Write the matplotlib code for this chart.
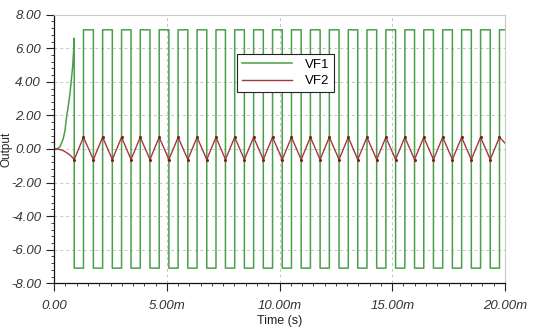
import numpy as np
import matplotlib
matplotlib.use("Agg")
import matplotlib.pyplot as plt
from matplotlib.ticker import MultipleLocator, FuncFormatter

# time in ms
# start-up transient
start_t = [0.0, 0.15, 0.26, 0.40, 0.48, 0.55, 0.63, 0.70, 0.76, 0.82, 0.86, 0.89]
start_vf1 = [0.0, 0.02, 0.14, 0.6, 1.1, 1.9, 2.6, 3.3, 4.1, 4.9, 5.8, 6.6]
start_vf2 = [0.0, -0.01, -0.04, -0.10, -0.16, -0.22, -0.29, -0.36, -0.44, -0.52, -0.58, -0.63]

# square wave VF1: edges of the low pulses (ms)
low_start = [0.89, 1.74, 2.58, 3.41, 4.25, 5.09, 5.93, 6.77, 7.60, 8.44, 9.28, 10.12,
             10.96, 11.80, 12.64, 13.47, 14.31, 15.15, 15.99, 16.83, 17.67, 18.51, 19.35]
low_end = [1.30, 2.15, 2.99, 3.82, 4.66, 5.50, 6.34, 7.18, 8.01, 8.85, 9.69, 10.53,
           11.37, 12.21, 13.05, 13.88, 14.72, 15.56, 16.40, 17.24, 18.08, 18.92, 19.76]
vf1_high = 7.1
vf1_low = -7.1

# triangle VF2
vf2_peak = 0.70
vf2_trough = -0.63
t_end = 20.0
vf2_end = 0.35

# build VF1 trace
t1 = list(start_t)
v1 = list(start_vf1)
for s, e in zip(low_start, low_end):
    t1 += [s, s, e, e]
    v1 += [vf1_high if s != low_start[0] else start_vf1[-1], vf1_low, vf1_low, vf1_high]
t1.append(t_end)
v1.append(vf1_high)

# build VF2 trace
t2 = list(start_t)
v2 = list(start_vf2)
for s, e in zip(low_start, low_end):
    if s != low_start[0]:
        t2.append(s)
        v2.append(vf2_trough)
    t2.append(e)
    v2.append(vf2_peak)
t2.append(t_end)
v2.append(vf2_end)

plt.rcParams['font.family'] = ['Liberation Sans', 'DejaVu Sans']

fig = plt.figure(figsize=(5.5, 3.34), dpi=100)
ax = fig.add_axes([0.0985, 0.152, 0.8195, 0.804])

ax.plot(t1, v1, color='#4a9f4a', lw=1.1, label='VF1')
ax.plot(t2, v2, color='#a33a3a', lw=1.0, label='VF2')
ax.plot(t2[len(start_t) - 1:-1], v2[len(start_t) - 1:-1], ls='none', marker='o',
        ms=1.2, color='#7a2020')

ax.set_xlim(0, 20)
ax.set_ylim(-8, 8)

ax.xaxis.set_major_locator(MultipleLocator(5))
ax.xaxis.set_minor_locator(MultipleLocator(0.5))
ax.yaxis.set_major_locator(MultipleLocator(2))
ax.yaxis.set_minor_locator(MultipleLocator(0.4))
ax.xaxis.set_major_formatter(FuncFormatter(lambda v, p: '0.00' if v == 0 else f'{v:.2f}m'))
ax.yaxis.set_major_formatter(FuncFormatter(lambda v, p: f'{v:.2f}'))

for lab in ax.get_xticklabels() + ax.get_yticklabels():
    lab.set_fontstyle('italic')
ax.tick_params(which='major', length=6, width=0.8, labelsize=9.5, colors='#222222',
               labelcolor='#333333')
ax.tick_params(which='minor', length=2.5, width=0.6, colors='#222222')
ax.tick_params(axis='x', which='major', pad=6)

ax.grid(True, which='major', color='#c4c4c4', ls=(0, (3, 3)), lw=0.7)
ax.set_axisbelow(True)

for side in ['top', 'right']:
    ax.spines[side].set_color('#c8c8c8')
for side in ['left', 'bottom']:
    ax.spines[side].set_color('#111111')
    ax.spines[side].set_linewidth(0.9)

ax.set_xlabel('Time (s)', fontsize=9, labelpad=2, color='#222222')
ax.set_ylabel('Output', fontsize=8.5, color='#222222')
ax.yaxis.set_label_coords(-0.092, 0.5)

leg = ax.legend(loc='upper left', bbox_to_anchor=(0.406, 0.853), fancybox=False,
                framealpha=1, edgecolor='#222222', fontsize=9.5, handlelength=3.8,
                borderpad=0.35, labelspacing=0.3, handletextpad=1.0, borderaxespad=0)
leg.get_frame().set_linewidth(0.8)

fig.savefig('out.png', dpi=100)
